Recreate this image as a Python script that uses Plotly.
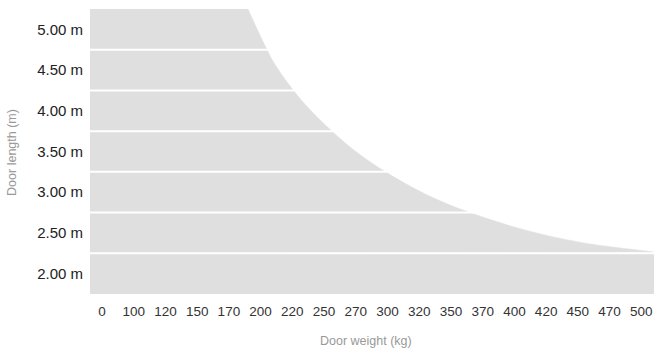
import numpy as np
import plotly.graph_objects as go

# ---- data ----
weight_ticks = [0, 100, 120, 150, 170, 200, 220, 250, 270, 300, 320, 350, 370, 400, 420, 450, 470, 500]
length_ticks = [2.00, 2.50, 3.00, 3.50, 4.00, 4.50, 5.00]
length_labels = ["2.00 m", "2.50 m", "3.00 m", "3.50 m", "4.00 m", "4.50 m", "5.00 m"]
band_edges = [2.25, 2.75, 3.25, 3.75, 4.25, 4.75]

# limit curve: max door weight (kg) for a door length (m)
curve_weight = [188, 204, 210, 221, 237, 255, 270, 298, 327, 362, 406, 453, 500]
curve_length = [5.25, 4.75, 4.54, 4.25, 4.01, 3.75, 3.50, 3.25, 2.97, 2.75, 2.54, 2.38, 2.285]
edge_length = 2.265  # where the limit meets the right edge

# ---- axes geometry ----
idx = np.arange(len(weight_ticks))
x_range = [-0.378, 17.40]
y_range = [1.75, 5.25]
fill_col = "#dfdfdf"

pos = np.interp(curve_weight, weight_ticks, idx)

fig = go.Figure()
fig.add_trace(go.Scatter(
    x=[x_range[0], x_range[0]], y=[y_range[1], band_edges[0]],
    mode="lines", line=dict(width=0, color=fill_col),
    hoverinfo="skip", showlegend=False))
fig.add_trace(go.Scatter(
    x=list(pos) + [x_range[1]], y=curve_length + [edge_length],
    mode="lines", line=dict(width=0.5, color=fill_col, shape="spline", smoothing=1),
    fill="tonextx", fillcolor=fill_col, hoverinfo="skip", showlegend=False))

shapes = [dict(type="rect", xref="x", yref="y", x0=x_range[0], x1=x_range[1],
               y0=y_range[0], y1=band_edges[0] + 0.01, fillcolor=fill_col,
               line=dict(width=0), layer="below")]
for e in band_edges:
    shapes.append(dict(type="line", xref="x", yref="y", x0=x_range[0], x1=x_range[1],
                       y0=e, y1=e, line=dict(color="white", width=2), layer="above"))

title_font = dict(family="Liberation Sans, Arial, sans-serif", size=12.5, color="#999999")

fig.update_layout(
    width=654, height=356,
    margin=dict(l=89.5, r=0, t=8.5, b=62, autoexpand=False),
    plot_bgcolor="white", paper_bgcolor="white",
    shapes=shapes,
    xaxis=dict(range=x_range, tickvals=list(idx), ticktext=[str(w) for w in weight_ticks],
               showgrid=False, zeroline=False, showline=False, ticks="", automargin=False,
               ticklabelstandoff=7,
               tickfont=dict(family="Liberation Sans, Arial, sans-serif", size=13.5, color="#333333")),
    yaxis=dict(range=y_range, tickvals=length_ticks, ticktext=length_labels,
               showgrid=False, zeroline=False, showline=False, ticks="", automargin=False,
               ticklabelstandoff=6,
               tickfont=dict(family="Liberation Sans, Arial, sans-serif", size=15, color="#222222")),
    annotations=[
        dict(text="Door weight (kg)", xref="paper", yref="paper", x=0.4898, y=-0.1646,
             xanchor="center", yanchor="middle", showarrow=False, font=title_font),
        dict(text="Door length (m)", xref="paper", yref="paper", x=-0.1373, y=0.497,
             xanchor="center", yanchor="middle", textangle=-90, showarrow=False, font=title_font),
    ],
)

fig.write_html(
    "out.html",
    config={"displayModeBar": False, "staticPlot": True},
    post_script="document.body.style.margin='0';document.documentElement.style.overflow='hidden';document.body.style.overflow='hidden';",
)
